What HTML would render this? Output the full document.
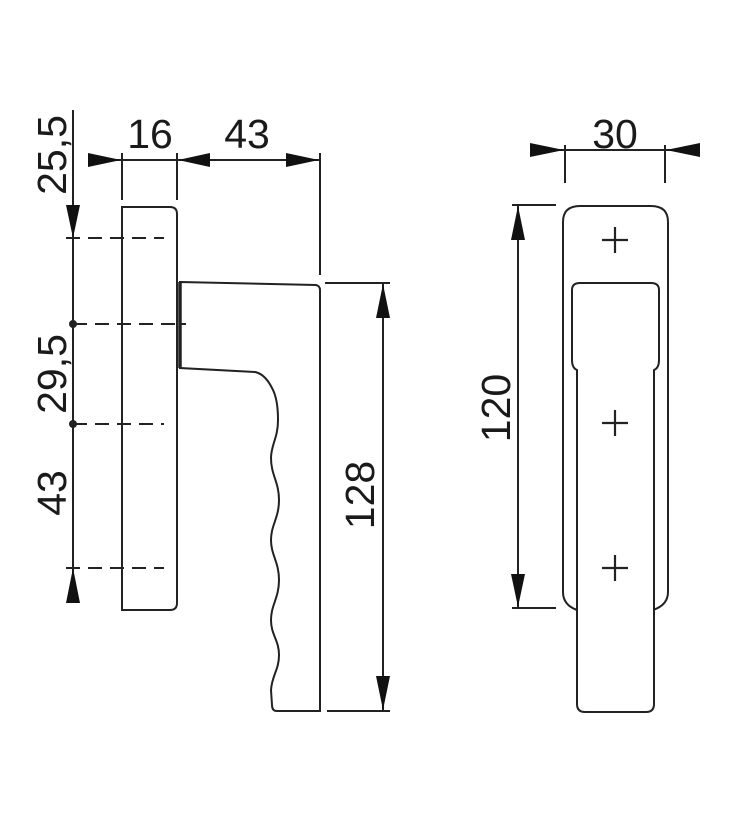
<!DOCTYPE html>
<html><head><meta charset="utf-8"><style>
html,body{margin:0;padding:0;background:#fff;}
svg{display:block;}
text{font-family:"Liberation Sans",Arial,sans-serif;font-size:41px;fill:#1a1a1a;}
</style></head><body>
<svg width="732" height="822" viewBox="0 0 732 822" xmlns="http://www.w3.org/2000/svg">
<g stroke="#222" stroke-width="2" fill="none">
<line x1="73" y1="110" x2="73" y2="603"/>
<!-- rosette -->
<path d="M122 207 H170 Q177 207 177 214 V603 Q177 610 170 610 H122 Z" fill="#fff"/>
<!-- dashed lines -->
<g stroke-dasharray="14,8">
<line x1="66" y1="238" x2="164" y2="238"/>
<line x1="73" y1="324" x2="186" y2="324"/>
<line x1="73" y1="424" x2="164" y2="424"/>
<line x1="66" y1="568" x2="164" y2="568"/>
</g>
<!-- top dims -->
<line x1="88" y1="160" x2="320" y2="160"/>
<line x1="122" y1="153" x2="122" y2="200"/>
<line x1="177" y1="153" x2="177" y2="200"/>
<line x1="320" y1="153" x2="320" y2="275"/>
<!-- handle side -->
<path d="M180 282 L316 285 Q320 286 320 290 V711 H277 Q272 711 272 705 L271 690 C272 675 279 670 279 655 C279 640 271 635 271 620 C271 605 279 598 279 580 C279 562 271 555 271 540 C271 525 279 518 279 500 C279 482 271 475 271 458 C271 445 278 438 278 420 C278 405 276 395 272 388 Q265 374 255 372 L180 368 Z" fill="#fff"/>
<line x1="180" y1="282" x2="180" y2="368" stroke-width="3.5"/>
<line x1="180" y1="324" x2="186" y2="324"/>
<!-- 128 dim -->
<line x1="383" y1="283" x2="383" y2="711"/>
<line x1="325" y1="283" x2="390" y2="283"/>
<line x1="327" y1="711" x2="390" y2="711"/>
<!-- right view -->
<line x1="530" y1="150" x2="700" y2="150"/>
<line x1="565" y1="145" x2="565" y2="183"/>
<line x1="665" y1="145" x2="665" y2="183"/>
<line x1="518" y1="205" x2="518" y2="608"/>
<line x1="512" y1="205" x2="556" y2="205"/>
<line x1="512" y1="608" x2="556" y2="608"/>
<path d="M577 610 Q563 605 563 592 V222 Q563 206 580 206 H651 Q668 206 668 222 V592 Q668 605 653 610"/>
<path d="M577 370 Q572 368 572 360 V290 Q572 283 580 283 H651 Q659 283 659 290 V360 Q659 368 654 370 V704 Q654 712 646 712 H585 Q577 712 577 704 Z" fill="#fff"/>
<g stroke-width="2.2">
<line x1="602" y1="240" x2="628" y2="240"/><line x1="615" y1="227" x2="615" y2="253"/>
<line x1="602" y1="423" x2="628" y2="423"/><line x1="615" y1="410" x2="615" y2="436"/>
<line x1="602" y1="568" x2="628" y2="568"/><line x1="615" y1="555" x2="615" y2="581"/>
</g>
</g>
<circle cx="73" cy="324" r="4" fill="#222"/>
<circle cx="73" cy="424" r="4" fill="#222"/>
<g fill="#111">
<polygon points="66,205 80,205 73,238"/>
<polygon points="66,603 80,603 73,568"/>
<polygon points="88,153 88,167 121,160"/>
<polygon points="210,153 210,167 178,160"/>
<polygon points="286,153 286,167 319,160"/>
<polygon points="376,318 390,318 383,284"/>
<polygon points="376,676 390,676 383,710"/>
<polygon points="530,143 530,157 564,150"/>
<polygon points="700,143 700,157 666,150"/>
<polygon points="511,240 525,240 518,206"/>
<polygon points="511,574 525,574 518,607"/>
</g>
<text x="150" y="148" text-anchor="middle">16</text>
<text x="247" y="148" text-anchor="middle">43</text>
<text x="615" y="148" text-anchor="middle">30</text>
<text transform="translate(66,155) rotate(-90)" text-anchor="middle">25,5</text>
<text transform="translate(66,374) rotate(-90)" text-anchor="middle">29,5</text>
<text transform="translate(66,493) rotate(-90)" text-anchor="middle">43</text>
<text transform="translate(374,495) rotate(-90)" text-anchor="middle">128</text>
<text transform="translate(510,408) rotate(-90)" text-anchor="middle">120</text>
</svg>
</body></html>
